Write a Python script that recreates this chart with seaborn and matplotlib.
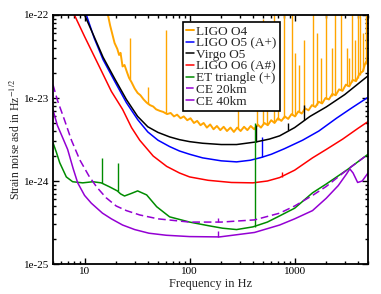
import numpy as np
import matplotlib
matplotlib.use('Agg')
import matplotlib.pyplot as plt
import seaborn as sns
from matplotlib.ticker import FixedLocator, FuncFormatter, LogLocator, NullFormatter

# LIGO O4 (noisy measured curve)
o4_f = [16, 17.5, 19.3, 20.5, 21.3, 22, 23, 24, 25.5, 26.5, 28, 30, 32, 34, 36.5, 39, 42, 45, 48,
        52, 56, 61, 66, 71, 76, 82, 88, 95, 102, 110, 118, 127, 136, 146, 157, 169, 182, 196,
        211, 227, 245, 264, 284, 306, 330, 355, 382, 412, 444, 478, 515, 555, 598, 644, 694,
        748, 806, 868, 935, 1007, 1085, 1169, 1259, 1356, 1461, 1574, 1696, 1827, 1968, 2120,
        2284, 2460, 2650, 2855, 3076, 3313, 3569, 3845, 4142, 4462, 4700, 5000]
o4_asd = [1.3e-22, 7.5e-23, 4.6e-23, 3.9e-23, 3.3e-23, 3.5e-23, 2.4e-23, 2.5e-23, 2.0e-23, 1.75e-23,
          1.55e-23, 1.3e-23, 1.15e-23, 1.08e-23, 9.6e-24, 8.8e-24, 8.2e-24, 7.9e-24, 7.3e-24,
          7.0e-24, 6.8e-24, 6.4e-24, 6.6e-24, 6.0e-24, 6.3e-24, 5.7e-24, 6.0e-24, 5.4e-24, 5.7e-24,
          5.0e-24, 5.3e-24, 4.7e-24, 5.0e-24, 4.4e-24, 4.8e-24, 4.2e-24, 4.6e-24, 4.1e-24,
          4.5e-24, 4.0e-24, 4.4e-24, 3.9e-24, 4.4e-24, 4.0e-24, 4.5e-24, 4.1e-24, 4.6e-24, 4.2e-24,
          4.8e-24, 4.4e-24, 5.0e-24, 4.7e-24, 5.4e-24, 5.0e-24, 5.7e-24, 5.3e-24, 6.0e-24, 5.6e-24,
          6.4e-24, 6.0e-24, 6.9e-24, 6.5e-24, 7.5e-24, 7.1e-24, 8.2e-24, 7.8e-24, 9.0e-24, 8.6e-24,
          1.0e-23, 9.6e-24, 1.12e-23, 1.08e-23, 1.27e-23, 1.22e-23, 1.45e-23, 1.38e-23, 1.65e-23,
          1.6e-23, 1.95e-23, 2.1e-23, 2.6e-23, 3.0e-23]
# O4 lines (frequency, base, top)
o4_spike_f = [26.8, 40, 59, 286, 440, 500, 540, 640, 690, 800, 935, 1000, 1100, 1240, 1490, 1620,
              1800, 2010, 2250, 2420, 2780, 3130, 3300, 3500, 3750, 3990, 4200, 4440, 4760]
o4_spike_lo = [1.7e-23, 8.5e-24, 6.6e-24, 4.3e-24, 4.6e-24, 4.8e-24, 4.8e-24, 5.1e-24, 5.4e-24,
               5.8e-24, 6.2e-24, 6.1e-24, 6.7e-24, 7.2e-24, 8.0e-24, 8.2e-24, 8.8e-24, 9.8e-24,
               1.05e-23, 1.1e-23, 1.25e-23, 1.4e-23, 1.45e-23, 1.55e-23, 1.6e-23, 1.75e-23,
               1.9e-23, 2.1e-23, 2.6e-23]
o4_spike_hi = [5.3e-23, 1.35e-23, 6.6e-23, 7.3e-24, 6e-23, 9e-23, 3e-23, 2e-22, 6e-23, 2e-22, 2e-22,
               3.5e-23, 2.5e-23, 5e-23, 2e-22, 6e-23, 3e-23, 2e-22, 4e-23, 2e-22, 2e-22, 4e-23,
               3e-23, 2e-22, 5e-23, 2e-22, 2e-22, 6e-23, 2e-22]

# LIGO O5 (A+)
o5_f = [9.5, 10.4, 12.4, 15, 19.3, 25, 32, 40, 50, 64.5, 80, 100, 133, 200, 280, 380, 480, 600,
        800, 1190, 1700, 2500, 3500, 5000]
o5_asd = [1.25e-22, 1e-22, 5.2e-23, 2.9e-23, 1.6e-23, 8.8e-24, 5.5e-24, 3.9e-24, 3.1e-24,
          2.6e-24, 2.3e-24, 2.1e-24, 1.9e-24, 1.75e-24, 1.7e-24, 1.78e-24, 1.92e-24, 2.1e-24,
          2.45e-24, 3.1e-24, 4.0e-24, 5.7e-24, 7.6e-24, 1.02e-23]
o5_spike = [485, 1.93e-24, 3.4e-24]

# Virgo O5
v5_f = [9.5, 10, 12.4, 15, 19.3, 25, 32, 40, 50, 64.5, 80, 100, 133, 200, 280, 425, 575, 720,
        1000, 1400, 2000, 3000, 5000]
v5_asd = [1.15e-22, 1e-22, 5.4e-23, 3.1e-23, 1.72e-23, 9.6e-24, 6.0e-24, 4.5e-24, 3.85e-24,
          3.4e-24, 3.15e-24, 2.98e-24, 2.85e-24, 2.75e-24, 2.75e-24, 2.95e-24, 3.2e-24, 3.5e-24,
          4.4e-24, 6.0e-24, 7.8e-24, 1.1e-23, 1.85e-23]
v5_spike_f = [425, 857, 1220]
v5_spike_lo = [2.95e-24, 4.1e-24, 5.4e-24]
v5_spike_hi = [4.7e-24, 5.0e-24, 8.3e-24]

# LIGO O6 (A#)
o6_f = [7.2, 8, 10, 13.9, 18, 23, 28, 33.5, 45, 60.5, 80, 100, 150, 250, 400, 550, 720, 1000,
        1480, 2000, 2870, 4000, 5000]
o6_asd = [1.35e-22, 1e-22, 5.5e-23, 2.35e-23, 1.2e-23, 7.3e-24, 4.4e-24, 3.1e-24, 2.0e-24,
          1.5e-24, 1.25e-24, 1.12e-24, 1.02e-24, 9.6e-25, 9.5e-25, 1.0e-24, 1.1e-24, 1.35e-24,
          1.9e-24, 2.4e-24, 3.2e-24, 4.3e-24, 5.2e-24]
o6_spike = [750, 1.12e-24, 1.3e-24]

# ET triangle (+)
et_f = [5, 5.4, 5.8, 6.7, 7.7, 9.6, 12, 14.4, 17.3, 20.5, 22, 24, 28, 32, 39, 48.6, 64.5, 100,
        150, 206, 280, 400, 550, 720, 1000, 1480, 2000, 3125, 5000]
et_asd = [2.9e-24, 2.2e-24, 1.66e-24, 1.12e-24, 9.8e-25, 9.5e-25, 9.8e-25, 9.5e-25, 8.5e-25,
          7.6e-25, 7.0e-25, 6.6e-25, 7.1e-25, 7.6e-25, 6.8e-25, 4.9e-25, 3.7e-25, 3.2e-25,
          2.9e-25, 2.7e-25, 2.6e-25, 2.8e-25, 3.2e-25, 3.8e-25, 4.7e-25, 7.2e-25, 9.2e-25,
          1.35e-24, 2.1e-24]
et_spike_f = [14.5, 20.6, 415]
et_spike_lo = [9.5e-25, 7.6e-25, 2.8e-25]
et_spike_hi = [1.9e-24, 1.66e-24, 5e-24]

# CE 20km
ce20_f = [5, 5.5, 6.45, 7.5, 9, 11, 13, 16, 20, 25, 33.5, 50, 100, 200, 415, 720, 1000, 1480,
          2000, 3125, 4000, 5000]
ce20_asd = [1.45e-23, 9.5e-24, 5.4e-24, 3.1e-24, 1.8e-24, 1.15e-24, 8.5e-25, 6.3e-25, 5.0e-25,
            4.4e-25, 3.9e-25, 3.5e-25, 3.2e-25, 3.2e-25, 3.4e-25, 4.1e-25, 5.0e-25, 6.7e-25,
            8.6e-25, 1.35e-24, 1.7e-24, 2.1e-24]
ce20_spike = [185, 3.2e-25, 3.55e-25]

# CE 40km
ce40_f = [5, 5.5, 6.2, 6.9, 7.8, 8.6, 10, 11.6, 14.8, 18, 23, 30, 41, 60, 100, 193, 415, 720,
          1000, 1480, 2000, 2600, 3125, 3350, 3600, 3980, 4400, 5000]
ce40_asd = [7.2e-24, 4.7e-24, 3.3e-24, 2.4e-24, 1.4e-24, 9.5e-25, 6.7e-25, 5.4e-25, 4.1e-25,
            3.5e-25, 2.95e-25, 2.6e-25, 2.35e-25, 2.22e-25, 2.14e-25, 2.12e-25, 2.4e-25, 2.95e-25,
            3.5e-25, 4.4e-25, 6.2e-25, 8.8e-25, 1.22e-24, 1.4e-24, 1.25e-24, 9.6e-25, 1.0e-24,
            1.25e-24]
ce40_spike = [185, 2.12e-25, 2.5e-25]

sns.set_theme(style='ticks')
plt.rcParams['font.family'] = ['Liberation Serif', 'DejaVu Serif']
plt.rcParams['mathtext.fontset'] = 'stix'

fig = plt.figure(figsize=(3.81, 2.94), dpi=100)
ax = fig.add_axes([0.139, 0.102, 0.827, 0.847])
ax.set_xscale('log')
ax.set_yscale('log')

lw = 1.1
orange, blue, red, green, purple = '#FFA500', '#0000FF', '#FF0000', '#008C00', '#9400D3'

sns.lineplot(x=o4_f, y=o4_asd, ax=ax, color=orange, lw=1.4, label='LIGO O4')
ax.vlines(o4_spike_f, o4_spike_lo, o4_spike_hi, color=orange, lw=1.0)
sns.lineplot(x=o5_f, y=o5_asd, ax=ax, color=blue, lw=lw, label='LIGO O5 (A+)')
ax.vlines(o5_spike[0], o5_spike[1], o5_spike[2], color=blue, lw=1.0)
sns.lineplot(x=v5_f, y=v5_asd, ax=ax, color='black', lw=lw, label='Virgo O5')
ax.vlines(v5_spike_f, v5_spike_lo, v5_spike_hi, color='black', lw=1.0)
sns.lineplot(x=o6_f, y=o6_asd, ax=ax, color=red, lw=lw, label='LIGO O6 (A#)')
ax.vlines(o6_spike[0], o6_spike[1], o6_spike[2], color=red, lw=1.0)
sns.lineplot(x=et_f, y=et_asd, ax=ax, color=green, lw=lw, label='ET triangle (+)')
ax.vlines(et_spike_f, et_spike_lo, et_spike_hi, color=green, lw=1.0)
sns.lineplot(x=ce20_f, y=ce20_asd, ax=ax, color=purple, lw=lw, dashes=(5, 2.5),
             label='CE 20km')
ax.vlines(ce20_spike[0], ce20_spike[1], ce20_spike[2], color=purple, lw=1.0)
sns.lineplot(x=ce40_f, y=ce40_asd, ax=ax, color=purple, lw=lw, label='CE 40km')
ax.vlines(ce40_spike[0], ce40_spike[1], ce40_spike[2], color=purple, lw=1.0)

ax.set_xlim(5, 5000)
ax.set_ylim(1e-25, 1e-22)

# ticks on every side, pointing inwards
ax.xaxis.set_major_locator(FixedLocator([10, 100, 1000]))
ax.xaxis.set_major_formatter(FuncFormatter(lambda v, p: f'{int(round(v))}'))
ax.xaxis.set_minor_locator(LogLocator(base=10, subs=np.arange(2, 10)))
ax.xaxis.set_minor_formatter(NullFormatter())
ax.yaxis.set_major_locator(FixedLocator([1e-25, 1e-24, 1e-23, 1e-22]))
ax.yaxis.set_major_formatter(FuncFormatter(lambda v, p: f'1e{int(round(np.log10(v)))}'))
ax.yaxis.set_minor_locator(LogLocator(base=10, subs=np.arange(2, 10)))
ax.yaxis.set_minor_formatter(NullFormatter())
ax.tick_params(which='both', direction='in', top=True, right=True, colors='black',
               labelsize=8, width=1.0)
ax.tick_params(which='major', length=4.5, pad=2.5)
ax.tick_params(which='minor', length=2.5)
for s in ax.spines.values():
    s.set_linewidth(1.3)
    s.set_color('black')

ax.set_xlabel('Frequency in Hz', fontsize=9, labelpad=1)
ax.set_ylabel(r'Strain noise asd in Hz$^{-1/2}$', fontsize=8.5, labelpad=1)

leg = ax.legend(loc='upper left', bbox_to_anchor=(0.413, 0.972), fontsize=9.5,
                frameon=True, fancybox=False, edgecolor='black', framealpha=1,
                borderpad=0.25, labelspacing=-0.04, handlelength=0.55, handletextpad=0.2,
                borderaxespad=0)
leg.get_frame().set_linewidth(1.2)

plt.savefig('out.png', dpi=100)
